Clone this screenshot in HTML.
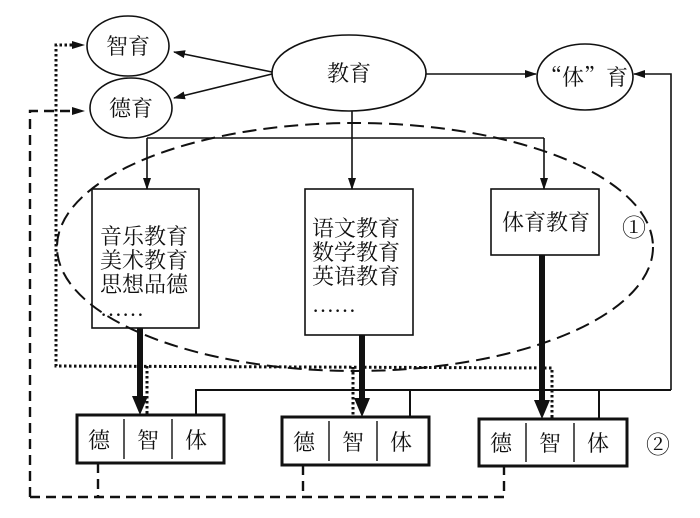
<!DOCTYPE html>
<html><head><meta charset="utf-8"><style>body{margin:0;background:#fff}svg{display:block}text{font-family:"Liberation Serif","Noto Serif CJK SC",serif;fill:#111}</style></head><body>
<svg width="700" height="518" viewBox="0 0 700 518" xmlns="http://www.w3.org/2000/svg">
<defs>
<marker id="a" markerWidth="12" markerHeight="8" refX="11" refY="4" orient="auto" markerUnits="userSpaceOnUse"><path d="M0,0 L12,4 L0,8 z" fill="#111"/></marker>
</defs>
<g fill="none" stroke="#111" stroke-width="1.6">
<ellipse cx="128" cy="46" rx="41" ry="30"/>
<ellipse cx="131" cy="108" rx="41" ry="30"/>
<ellipse cx="349" cy="73" rx="77" ry="38"/>
<ellipse cx="585" cy="77" rx="48" ry="33"/>
<line x1="272" y1="72" x2="174" y2="52" marker-end="url(#a)"/>
<line x1="272" y1="74" x2="174" y2="98" marker-end="url(#a)"/>
<line x1="426" y1="74" x2="536" y2="74" marker-end="url(#a)"/>
<polyline points="671,390 671,74 634,74" marker-end="url(#a)"/>
<line x1="147" y1="138" x2="544" y2="138"/>
<line x1="147" y1="138" x2="147" y2="189" marker-end="url(#a)"/>
<line x1="352" y1="111" x2="352" y2="189" marker-end="url(#a)"/>
<line x1="544" y1="138" x2="544" y2="189" marker-end="url(#a)"/>
<rect x="92" y="189" width="107" height="139"/>
<rect x="305" y="189" width="108" height="146"/>
<rect x="491" y="189" width="108" height="66"/>
<ellipse cx="355" cy="247" rx="298" ry="124" stroke-dasharray="14,7" stroke-width="2"/>
<polyline points="196,415 196,390 671,390" stroke-width="2"/>
<line x1="410" y1="390" x2="410" y2="417" stroke-width="2"/>
<line x1="599" y1="390" x2="599" y2="419" stroke-width="2"/>
<polyline points="72,45 56,45 56,366 552,368 552,418" stroke-dasharray="2.5,2.5" stroke-width="3"/>
<line x1="147" y1="366" x2="147" y2="415" stroke-dasharray="2.5,2.5" stroke-width="3"/>
<line x1="353" y1="367" x2="353" y2="417" stroke-dasharray="2.5,2.5" stroke-width="3"/>
<polyline points="30,497 30,111 72,111" stroke-dasharray="10,6" stroke-width="2.4"/>
<polyline points="30,497 504,497 504,466" stroke-dasharray="10,6" stroke-width="2.4"/>
<line x1="98" y1="463" x2="98" y2="497" stroke-dasharray="10,6" stroke-width="2.4"/>
<line x1="303" y1="465" x2="303" y2="497" stroke-dasharray="10,6" stroke-width="2.4"/>
<line x1="140" y1="328" x2="140" y2="400" stroke-width="6"/>
<line x1="362" y1="335" x2="362" y2="402" stroke-width="6"/>
<line x1="542" y1="255" x2="542" y2="404" stroke-width="6"/>
<g stroke-width="3"><rect x="77" y="415" width="147" height="48"/><rect x="282" y="417" width="147" height="48"/><rect x="479" y="419" width="148" height="47"/></g>
<g stroke-width="1.4"><line x1="124" y1="419" x2="124" y2="459"/><line x1="172" y1="419" x2="172" y2="459"/><line x1="329" y1="421" x2="329" y2="461"/><line x1="377" y1="421" x2="377" y2="461"/><line x1="526" y1="423" x2="526" y2="462"/><line x1="574" y1="423" x2="574" y2="462"/></g>
</g>
<g fill="#111">
<path d="M132,396 L148,396 L140,415 z"/>
<path d="M354,398 L370,398 L362,417 z"/>
<path d="M534,400 L550,400 L542,419 z"/>
<path d="M85,45 L72,41 L72,49 z"/>
<path d="M85,111 L72,107 L72,115 z"/>
</g>
<g font-size="22">
<text x="106" y="54">智育</text>
<text x="109" y="116">德育</text>
<text x="327" y="81">教育</text>
<text x="540" y="85" style="font-family:'Noto Serif CJK SC',serif">“体”育</text>
<text x="100" y="244">音乐教育</text><text x="100" y="268">美术教育</text><text x="100" y="292">思想品德</text><text x="100" y="316">……</text>
<text x="312" y="236">语文教育</text><text x="312" y="260">数学教育</text><text x="312" y="284">英语教育</text><text x="312" y="312">……</text>
<text x="502" y="230">体育教育</text>
<text x="622" y="236" font-size="24">①</text>
<text x="88" y="448">德</text><text x="137" y="448">智</text><text x="185" y="448">体</text>
<text x="293" y="450">德</text><text x="342" y="450">智</text><text x="390" y="450">体</text>
<text x="490" y="451">德</text><text x="539" y="451">智</text><text x="587" y="451">体</text>
<text x="646" y="453" font-size="24">②</text>
</g>
</svg>
</body></html>
